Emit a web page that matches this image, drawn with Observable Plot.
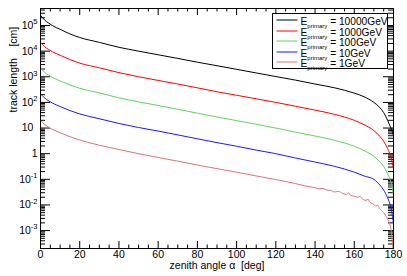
<!DOCTYPE html>
<html><head><meta charset="utf-8">
<script src="https://cdn.jsdelivr.net/npm/d3@7"></script>
<script src="https://cdn.jsdelivr.net/npm/@observablehq/plot@0.6"></script>
<style>
body{margin:0;background:#fff;}
svg{font-family:"Liberation Sans",Arial,sans-serif;}
</style>
</head><body><div id="chart"></div>
<script>
// zenith angle samples (deg)
const angles = [0,2,4,6,10,15,20,30,40,50,60,70,80,90,100,110,120,130,140,150,160,165,170,173,175,177,178,179,180];
// track length [cm] per primary energy
const len10000GeV = [2.5e5,1.66e5,1.26e5,1.0e5,7.1e4,4.7e4,3.4e4,2.2e4,1.41e4,1.0e4,7.2e3,5.2e3,3.7e3,2.7e3,1.95e3,1.41e3,1.02e3,740,520,370,230,166,100,63,40,20,13.2,8.9,5.0];
const len1000GeV  = [2.2e4,1.51e4,1.17e4,9.5e3,6.9e3,4.7e3,3.4e3,2.24e3,1.45e3,1.0e3,720,520,370,260,190,138,100,71,50,34,20,13.5,7.9,4.8,3.0,1.58,1.05,0.60,0.25];
const len100GeV   = [2.2e3,1.51e3,1.17e3,950,690,480,355,235,151,105,76,54,38,27,19.5,14.1,10,6.9,4.9,3.3,1.95,1.32,0.79,0.48,0.32,0.166,0.112,0.063,0.022];
const len10GeV    = [220,151,117,95,69,48,35.5,23,15.1,10.5,7.6,5.4,3.8,2.7,1.95,1.38,1.0,0.68,0.47,0.32,0.19,0.135,0.10,0.060,0.038,0.019,0.012,0.0063,0.0018];
const angles1GeV  = [0,2,4,6,8,10,15,20,30,40,50,60,70,80,90,100,110,120,130,135,138,140,142,144,146,148,150,152,154,156,157,158,160,162,163,164,166,167,168,170,171,172,173,174,175,176,177,178,179,180];
const len1GeV     = [20,14.1,11,8.9,7.6,6.5,4.6,3.4,2.14,1.45,1.0,0.71,0.51,0.36,0.26,0.19,0.135,0.098,0.068,0.055,0.050,0.047,0.043,0.044,0.038,0.037,0.032,0.034,0.028,0.026,0.030,0.024,0.022,0.020,0.022,0.0174,0.0151,0.0166,0.0126,0.0105,0.0089,0.0098,0.0071,0.0060,0.0050,0.0038,0.0028,0.0019,0.0008,0.0001];

const seriesNames  = ["10000GeV","1000GeV","100GeV","10GeV","1GeV"];
const seriesColors = ["#000000","#ff0000","#5cd65c","#1a1aff","#dd7474"];

const xTicks = [0,20,40,60,80,100,120,140,160,180];
const xTickLabels = ["0","20","40","60","80","100","120","140","160","180"];
const yTicks = [1e-3,1e-2,1e-1,1,10,1e2,1e3,1e4,1e5];
const yTickLabels = ["10^-3","10^-2","10^-1","1","10","10^2","10^3","10^4","10^5"];
const xTitle = "zenith angle \u03b1  [deg]";
const yTitle = "track length    [cm]";

// build table
const seriesX = [angles, angles, angles, angles, angles1GeV];
const seriesY = [len10000GeV, len1000GeV, len100GeV, len10GeV, len1GeV];
const rows = [];
seriesNames.forEach((name, s) => seriesY[s].forEach((v, i) => rows.push({angle: seriesX[s][i], len: v, series: name})));

const W = 407, H = 276, mL = 40, mR = 14, mT = 8, mB = 28;
const pW = W - mL - mR, pH = H - mT - mB;

const xMinor = [];
for (let a = 5; a < 180; a += 5) if (a % 20 !== 0) xMinor.push(a);
const yMinor = [];
for (let e = -4; e <= 5; e++) for (let k = 2; k <= 9; k++) { const v = k * Math.pow(10, e); if (v > 2e-4 && v < 4.6e5) yMinor.push(v); }

const legendRowDy = [11, 22, 32, 43, 53];
const legendMarks = [];
seriesNames.forEach((name, i) => {
  legendMarks.push(Plot.frame({fill: seriesColors[i], stroke: null, insetLeft: 236, insetRight: pW - 257, insetTop: legendRowDy[i], insetBottom: pH - legendRowDy[i] - 1}));
  legendMarks.push(Plot.text([name], {frameAnchor: "top-left", dx: 260, dy: legendRowDy[i] - 1.5, text: d => "E_primary_= " + d, textAnchor: "start", fontSize: 10.2, fill: "black"}));
});

const chart = Plot.plot({
  width: W, height: H,
  marginLeft: mL, marginRight: mR, marginTop: mT, marginBottom: mB,
  style: {background: "#fff", fontFamily: "Liberation Sans, Arial, sans-serif"},
  x: {domain: [0, 180], axis: null},
  y: {type: "log", domain: [2e-4, 4.6e5], axis: null},
  color: {domain: seriesNames, range: seriesColors},
  marks: [
    Plot.tickX(xTicks, {x: d => d, insetTop: pH - 7, stroke: "black"}),
    Plot.tickX(xTicks, {x: d => d, insetBottom: pH - 7, stroke: "black"}),
    Plot.tickX(xMinor, {x: d => d, insetTop: pH - 3.5, stroke: "black"}),
    Plot.tickX(xMinor, {x: d => d, insetBottom: pH - 3.5, stroke: "black"}),
    Plot.tickY(yTicks, {y: d => d, insetRight: pW - 10, stroke: "black"}),
    Plot.tickY(yTicks, {y: d => d, insetLeft: pW - 10, stroke: "black"}),
    Plot.tickY(yMinor, {y: d => d, insetRight: pW - 5, stroke: "black"}),
    Plot.tickY(yMinor, {y: d => d, insetLeft: pW - 5, stroke: "black"}),
    Plot.line(rows, {x: "angle", y: "len", z: "series", stroke: "series", strokeWidth: 1, curve: "monotone-x", clip: true}),
    Plot.frame({fill: "white", stroke: "black", insetLeft: 232, insetRight: 6, insetTop: 5, insetBottom: 180}),
    ...legendMarks,
    Plot.frame({stroke: "black", strokeWidth: 1}),
    Plot.text(xTicks, {x: d => d, frameAnchor: "bottom", dy: 9, text: (d, i) => xTickLabels[i], fontSize: 10.5, fill: "black"}),
    Plot.text(yTicks, {y: d => d, frameAnchor: "left", dx: -3, text: (d, i) => yTickLabels[i], textAnchor: "end", fontSize: 10.5, fill: "black"}),
    Plot.text([xTitle], {frameAnchor: "bottom", dy: 20, text: d => d, fontSize: 10.5, fill: "black"}),
    Plot.text([yTitle], {frameAnchor: "left", dx: -27, dy: -16, rotate: -90, text: d => d, fontSize: 10.5, fill: "black"})
  ]
});
document.getElementById("chart").append(chart);

const NS = "http://www.w3.org/2000/svg";
chart.querySelectorAll("text").forEach(t => {
  if (t.querySelector("tspan")) return;
  const s = t.textContent;
  t.style.whiteSpace = "pre";
  if (/^10\^/.test(s)) {
    const [base, exp] = s.split("^");
    t.textContent = base;
    const sp = document.createElementNS(NS, "tspan");
    sp.setAttribute("font-size", "7.5");
    sp.setAttribute("dy", "-4.5");
    sp.textContent = exp;
    t.appendChild(sp);
  } else if (s === "10") {
    const sp = document.createElementNS(NS, "tspan");
    sp.setAttribute("font-size", "7.5");
    sp.setAttribute("fill-opacity", "0");
    sp.textContent = "0";
    t.appendChild(sp);
  } else if (s.startsWith("E_")) {
    const [a, b, c] = s.split("_");
    t.textContent = a;
    const s1 = document.createElementNS(NS, "tspan");
    s1.setAttribute("font-size", "6"); s1.setAttribute("dy", "2.5");
    s1.textContent = b;
    const s2 = document.createElementNS(NS, "tspan");
    s2.setAttribute("font-size", "10.2"); s2.setAttribute("dy", "-2.5");
    s2.textContent = " " + c;
    t.appendChild(s1); t.appendChild(s2);
  }
});
</script>
</body></html>
